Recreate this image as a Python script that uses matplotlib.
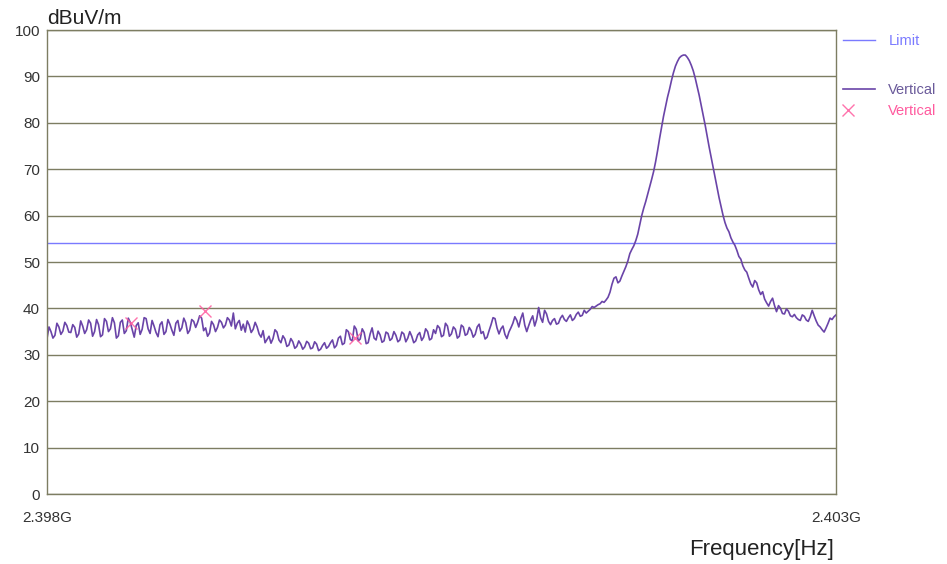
import numpy as np
import matplotlib
matplotlib.use("Agg")
import matplotlib.pyplot as plt

plt.rcParams['font.family'] = ['Liberation Sans', 'DejaVu Sans']

# frequency span (GHz) and trace
f_start = 2.398
f_stop = 2.403
trace = [
    33.5, 36.0, 35.0, 33.6, 34.2, 36.8, 36.0, 34.4, 35.1, 37.0,
    36.3, 34.9, 34.8, 36.5, 35.9, 33.8, 34.5, 37.3, 36.2, 34.6,
    35.4, 37.5, 36.8, 34.0, 35.0, 37.6, 36.5, 33.9, 34.3, 37.8,
    37.2, 35.0, 35.6, 38.0, 36.9, 33.6, 34.1, 37.0,
    37.5, 34.6, 35.2, 37.9, 37.0, 35.4, 33.8, 36.3, 36.9, 34.4,
    35.5, 38.0, 37.8, 35.6, 34.6, 37.4, 36.2, 34.8, 33.9, 36.5,
    37.1, 34.4, 35.0, 37.6, 36.6, 35.3, 34.2, 36.8, 37.4, 35.1,
    35.8, 37.9, 36.9, 34.6, 35.3, 37.6, 37.2, 35.9,
    37.0, 38.4, 37.9, 35.2, 35.8, 34.0, 34.7, 37.2, 36.5, 35.0,
    35.9, 37.5, 37.0, 35.8, 36.4, 38.0, 37.5, 36.2, 39.0, 35.6,
    36.8, 37.4, 35.3, 36.6, 34.9, 37.3,
    36.4, 34.8, 35.5, 37.0, 36.0, 34.5, 33.8, 35.2, 32.6, 33.3,
    34.0, 32.5, 33.5, 35.4, 34.9, 33.2, 32.6, 34.1, 33.4, 31.8,
    32.1, 33.5, 32.8, 31.4, 31.8, 33.0, 32.3, 31.2, 31.7, 32.9,
    32.5, 31.3, 31.5, 32.8, 32.3, 30.9, 31.2, 32.0, 32.6, 31.4,
    31.8, 32.6, 33.2, 31.5, 32.0, 33.6, 34.0, 32.2, 32.5, 35.4,
    35.0, 33.3, 33.0, 36.2, 35.5, 33.0, 33.4, 35.6, 34.8, 32.4,
    32.6, 34.5, 35.8, 33.6, 33.2, 35.1, 34.3, 32.7, 33.0, 34.9,
    34.6, 33.1, 33.5, 35.0, 34.2, 32.8,
    33.2, 34.9, 34.5, 32.8, 33.6, 35.0, 34.0, 32.6, 33.0, 34.3,
    34.8, 33.1, 33.8, 35.6, 35.0, 33.2, 33.5, 35.4, 34.6, 36.3,
    35.8, 33.9, 34.2, 36.8, 36.2, 34.0, 34.5, 36.0, 35.5, 33.6,
    34.0, 36.4, 36.0, 34.2, 34.5, 35.9, 35.2, 33.8, 34.4, 36.0,
    36.6, 34.6, 35.0, 33.4,
    33.8, 35.2, 36.5, 38.0, 37.8, 35.8, 34.5, 35.6, 36.2, 34.4,
    33.5, 34.9, 35.8, 36.8, 38.2, 37.4, 36.0, 37.8, 39.0, 36.4,
    35.0, 36.3, 37.5, 38.4, 36.2, 37.6, 40.2, 38.0, 37.0, 39.6,
    38.8, 37.2, 36.5, 37.4, 37.8, 36.6, 36.8, 37.9, 38.5, 37.6,
    37.2, 38.0, 38.6, 37.4, 37.8, 38.7, 39.2, 38.3, 38.5, 39.6,
    39.0, 39.4, 39.8, 40.4, 40.2, 40.5, 40.8, 41.0, 41.5, 41.3,
    41.8, 42.4, 43.5, 45.2, 46.5, 46.8, 45.5, 45.9, 47.0, 48.0,
    49.0, 50.2, 51.8, 52.7, 53.5, 54.6, 56.0, 58.0, 60.0, 61.6,
    63.0, 64.6, 66.2, 67.8, 69.5, 71.6, 74.0, 76.6, 79.0, 81.4,
    83.5, 85.5, 87.2, 89.1, 90.8, 92.2, 93.2, 94.0, 94.4, 94.6,
    94.6, 94.1, 93.4, 92.4, 91.2, 89.6, 87.8, 85.9, 83.8, 81.7,
    79.5, 77.1, 74.8, 72.6, 70.5, 68.2, 66.0, 63.9, 62.0, 60.1,
    58.5, 57.3, 56.5, 55.2, 54.3, 53.6, 52.5, 51.2, 50.6, 49.2,
    48.3, 47.8, 46.5, 45.3, 44.6, 46.0, 45.5, 44.0, 43.0, 43.6,
    42.0, 41.2, 40.5, 41.5, 42.2, 40.6, 39.3, 40.6, 40.0, 38.9,
    38.8, 39.9, 39.4, 38.4, 38.2, 38.7, 38.0, 37.6, 37.4, 38.6,
    38.3, 37.5, 37.2, 38.2, 39.6, 38.4, 37.3, 36.4, 36.0, 35.4,
    34.9, 35.8, 36.8, 37.9, 37.6, 38.2, 38.6,
]
freq = np.linspace(f_start, f_stop, len(trace))

limit = 54.0
mark_freq = [2.39853, 2.39900, 2.39995]
mark_level = [36.9, 39.4, 33.6]

y_ticks = list(range(0, 101, 10))
x_ticks = [f_start, f_stop]
x_labels = ['2.398G', '2.403G']

trace_col = '#6a44a8'
limit_col = '#7a7aff'
mark_col = '#ff5a9e'
grid_col = '#7d7d62'

fig = plt.figure(figsize=(9.47, 5.64), dpi=100)
ax = fig.add_axes([47 / 947, 70 / 564, 789 / 947, 464 / 564])

lim_line, = ax.plot([f_start, f_stop], [limit, limit], color=limit_col, lw=1.0)
tr_line, = ax.plot(freq, trace, color=trace_col, lw=1.2)
mk, = ax.plot(mark_freq, mark_level, 'x', color=mark_col, ms=9, mew=1.0, alpha=0.85)

ax.set_xlim(f_start, f_stop)
ax.set_ylim(0, 100)
ax.set_yticks(y_ticks)
ax.set_xticks(x_ticks)
ax.set_xticklabels(x_labels)
ax.tick_params(axis='both', length=0, labelsize=11, colors='#333333')
ax.tick_params(axis='y', pad=5)
ax.tick_params(axis='x', pad=12)
ax.yaxis.grid(True, color=grid_col, lw=1.0)
ax.set_axisbelow(True)
for s in ax.spines.values():
    s.set_color(grid_col)
    s.set_linewidth(1.0)

ax.text(0.0, 1.005, 'dBuV/m', transform=ax.transAxes, ha='left', va='bottom',
        fontsize=15, color='#222222')
fig.text(762 / 947, 1 - 549 / 564, 'Frequency[Hz]', ha='center', va='center',
         fontsize=16, color='#222222')

# legend: three separate entries so the marker sits at the left like the original
leg_kw = dict(loc='center left', frameon=False, fontsize=10.5, borderaxespad=0,
              borderpad=0)
leg1 = ax.legend([lim_line], ['Limit'], bbox_to_anchor=(1.009, 0.976),
                 handlelength=2.2, handletextpad=0.9, labelcolor=[limit_col], **leg_kw)
ax.add_artist(leg1)
leg2 = ax.legend([tr_line], ['Vertical'], bbox_to_anchor=(1.009, 0.871),
                 handlelength=2.2, handletextpad=0.9, labelcolor=['#6a5a9a'], **leg_kw)
ax.add_artist(leg2)
ax.legend([mk], ['Vertical'], bbox_to_anchor=(1.009, 0.825),
          handlelength=0.7, handletextpad=2.4, labelcolor=[mark_col], **leg_kw)

fig.savefig('out.png', dpi=100)
